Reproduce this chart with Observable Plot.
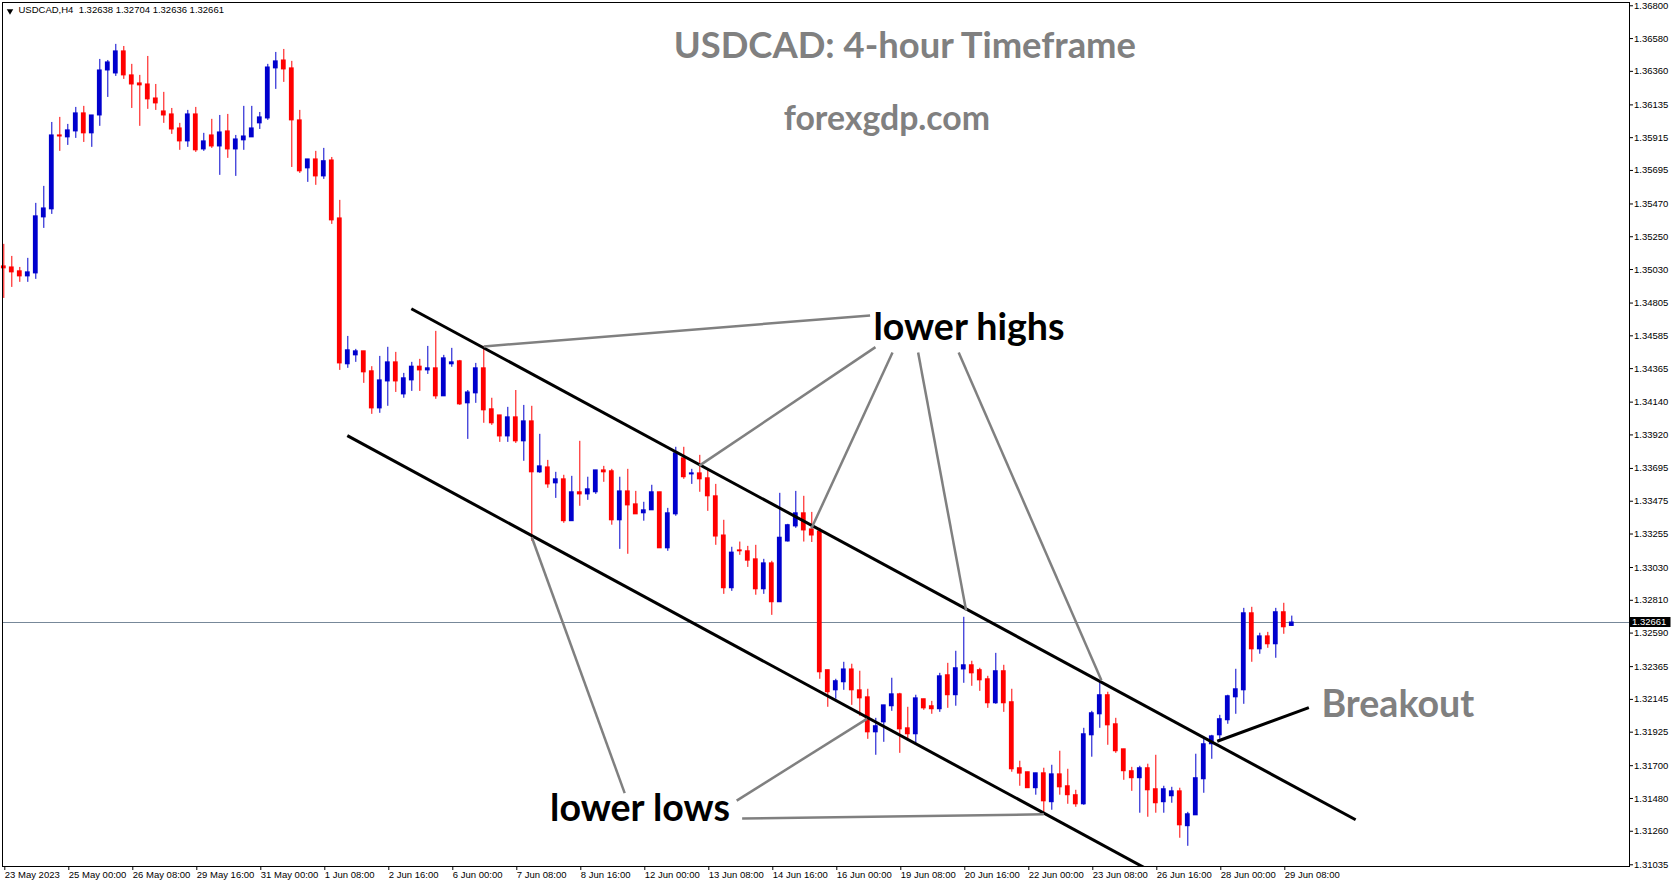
<!DOCTYPE html>
<html>
<head>
<meta charset="utf-8">
<script src="https://cdn.jsdelivr.net/npm/d3@7"></script>
<script src="https://cdn.jsdelivr.net/npm/@observablehq/plot@0.6"></script>
<style>
html, body { margin: 0; padding: 0; background: #ffffff; }
#chart { width: 1673px; height: 888px; overflow: hidden; }
</style>
</head>
<body>
<div id="chart"></div>
<script>
// ---------------- DATA ----------------
const symbol = "USDCAD,H4";

const open = [1.35051,1.35044,1.35018,1.34984,1.35004,1.35380,1.35434,1.35930,1.35917,1.35957,
1.36078,1.35944,1.36064,1.36366,1.36346,1.36494,1.36333,1.36279,1.36272,1.36178,
1.36091,1.36071,1.35977,1.35890,1.36071,1.35836,1.35930,1.35856,1.35957,1.35836,
1.35897,1.35917,1.36011,1.36044,1.36380,1.36433,1.36380,1.36031,1.35709,1.35769,
1.35655,1.35762,1.35373,1.34394,1.34454,1.34481,1.34347,1.34098,1.34279,1.34407,
1.34192,1.34286,1.34378,1.34353,1.34367,1.34179,1.34394,1.34414,1.34132,1.34199,
1.34367,1.34092,1.34051,1.33910,1.34038,1.33877,1.34011,1.33669,1.33702,1.33595,
1.33622,1.33341,1.33535,1.33521,1.33535,1.33682,1.33676,1.33347,1.33541,1.33454,
1.33394,1.33414,1.33535,1.33159,1.33387,1.33763,1.33655,1.33662,1.33629,1.33508,
1.33245,1.32891,1.33145,1.33139,1.33085,1.32884,1.33058,1.32797,1.33205,1.33306,
1.33394,1.33286,1.33272,1.32341,1.32206,1.32260,1.32346,1.32206,1.32159,1.31924,
1.31991,1.32099,1.32179,1.31951,1.31911,1.32146,1.32099,1.32079,1.32307,1.32173,
1.32346,1.32374,1.32341,1.32280,1.32119,1.32334,1.32126,1.31683,1.31656,1.31549,
1.31649,1.31455,1.31642,1.31562,1.31502,1.31441,1.31904,1.32045,1.32173,1.31978,
1.31810,1.31663,1.31616,1.31683,1.31542,1.31455,1.31495,1.31528,1.31294,1.31367,
1.31609,1.31844,1.31904,1.32005,1.32159,1.32206,1.32723,1.32481,1.32568,1.32515,
1.32730,1.32638];

const high = [1.35199,1.35118,1.35044,1.35105,1.35474,1.35588,1.36017,1.36051,1.36004,1.36118,
1.36125,1.36064,1.36440,1.36433,1.36541,1.36527,1.36407,1.36333,1.36460,1.36272,
1.36219,1.36111,1.36011,1.36098,1.36118,1.35944,1.36038,1.36064,1.36071,1.35930,
1.36125,1.36125,1.36084,1.36407,1.36487,1.36507,1.36427,1.36098,1.35769,1.35823,
1.35843,1.35782,1.35494,1.34581,1.34494,1.34481,1.34378,1.34447,1.34508,1.34474,
1.34333,1.34407,1.34427,1.34514,1.34615,1.34454,1.34501,1.34420,1.34218,1.34400,
1.34514,1.34166,1.34051,1.34105,1.34218,1.34118,1.34112,1.33924,1.33749,1.33669,
1.33649,1.33642,1.33877,1.33636,1.33682,1.33709,1.33689,1.33636,1.33689,1.33541,
1.33468,1.33582,1.33535,1.33427,1.33837,1.33837,1.33689,1.33783,1.33682,1.33588,
1.33347,1.33166,1.33201,1.33172,1.33179,1.33085,1.33072,1.33528,1.33320,1.33541,
1.33508,1.33400,1.33293,1.32341,1.32280,1.32394,1.32381,1.32334,1.32213,1.32018,
1.32105,1.32287,1.32186,1.32092,1.32173,1.32146,1.32132,1.32320,1.32387,1.32468,
1.32696,1.32401,1.32354,1.32300,1.32454,1.32374,1.32213,1.31730,1.31656,1.31649,
1.31683,1.31703,1.31797,1.31676,1.31535,1.31951,1.32065,1.32267,1.32193,1.32018,
1.31810,1.31689,1.31696,1.31710,1.31770,1.31562,1.31555,1.31549,1.31387,1.31777,
1.31877,1.31904,1.32038,1.32173,1.32347,1.32756,1.32763,1.32589,1.32595,1.32756,
1.32790,1.32704];

const low = [1.34836,1.34910,1.34944,1.34944,1.34964,1.35306,1.35400,1.35823,1.35863,1.35910,
1.35883,1.35850,1.35991,1.36185,1.36326,1.36306,1.36111,1.35991,1.36105,1.36098,
1.36011,1.35937,1.35830,1.35850,1.35816,1.35823,1.35843,1.35662,1.35776,1.35655,
1.35830,1.35917,1.35970,1.36031,1.36239,1.36286,1.35715,1.35675,1.35615,1.35595,
1.35635,1.35333,1.34353,1.34367,1.34407,1.34266,1.34058,1.34065,1.34112,1.34205,
1.34166,1.34212,1.34212,1.34326,1.34159,1.34179,1.34374,1.34118,1.33890,1.34132,
1.33998,1.33984,1.33870,1.33870,1.33863,1.33743,1.33206,1.33662,1.33562,1.33494,
1.33327,1.33341,1.33441,1.33481,1.33521,1.33602,1.33314,1.33152,1.33119,1.33387,
1.33341,1.33414,1.33159,1.33139,1.33374,1.33622,1.33588,1.33535,1.33407,1.33179,
1.32850,1.32870,1.33112,1.33031,1.32844,1.32850,1.32709,1.32797,1.33201,1.33293,
1.33201,1.33198,1.32280,1.32092,1.32146,1.32206,1.32105,1.32032,1.31877,1.31770,
1.31857,1.32065,1.31783,1.31877,1.31844,1.32072,1.32045,1.32058,1.32085,1.32099,
1.32253,1.32233,1.32199,1.32085,1.32112,1.32058,1.31656,1.31562,1.31549,1.31502,
1.31381,1.31401,1.31502,1.31441,1.31421,1.31434,1.31757,1.31951,1.31837,1.31783,
1.31602,1.31528,1.31381,1.31354,1.31381,1.31381,1.31448,1.31213,1.31159,1.31367,
1.31515,1.31743,1.31877,1.31978,1.32045,1.32112,1.32394,1.32448,1.32488,1.32421,
1.32582,1.32636];

const close = [1.35038,1.35011,1.34984,1.35011,1.35387,1.35440,1.35930,1.35923,1.35964,1.36078,
1.35944,1.36064,1.36366,1.36420,1.36494,1.36333,1.36272,1.36266,1.36172,1.36145,
1.36064,1.35970,1.35890,1.36071,1.35830,1.35890,1.35856,1.35950,1.35836,1.35903,
1.35923,1.35977,1.36051,1.36386,1.36427,1.36373,1.36031,1.35689,1.35769,1.35655,
1.35757,1.35360,1.34400,1.34488,1.34481,1.34340,1.34098,1.34286,1.34407,1.34279,
1.34300,1.34378,1.34353,1.34367,1.34179,1.34434,1.34407,1.34125,1.34205,1.34367,
1.34085,1.33998,1.33910,1.34038,1.33877,1.34011,1.33669,1.33709,1.33588,1.33622,
1.33341,1.33535,1.33521,1.33555,1.33682,1.33669,1.33347,1.33541,1.33447,1.33387,
1.33414,1.33535,1.33159,1.33394,1.33796,1.33636,1.33662,1.33622,1.33508,1.33238,
1.32891,1.33130,1.33139,1.33076,1.32884,1.33058,1.32797,1.33230,1.33314,1.33394,
1.33279,1.33245,1.32327,1.32193,1.32267,1.32346,1.32206,1.32152,1.31924,1.31965,
1.32105,1.32179,1.31944,1.31911,1.32152,1.32085,1.32079,1.32300,1.32173,1.32354,
1.32374,1.32320,1.32273,1.32119,1.32334,1.32119,1.31676,1.31647,1.31549,1.31649,
1.31461,1.31642,1.31555,1.31502,1.31441,1.31911,1.32052,1.32173,1.31971,1.31797,
1.31663,1.31616,1.31683,1.31535,1.31448,1.31542,1.31528,1.31300,1.31374,1.31616,
1.31844,1.31897,1.32012,1.32166,1.32213,1.32723,1.32481,1.32568,1.32515,1.32730,
1.32629,1.32661];

// time-axis tick labels (every 8th H4 bar)
const dateTickIndex = [0,8,16,24,32,40,48,56,64,72,80,88,96,104,112,120,128,136,144,152,160];
const dateTickLabels = ["23 May 2023","25 May 00:00","26 May 08:00","29 May 16:00","31 May 00:00",
"1 Jun 08:00","2 Jun 16:00","6 Jun 00:00","7 Jun 08:00","8 Jun 16:00","12 Jun 00:00",
"13 Jun 08:00","14 Jun 16:00","16 Jun 00:00","19 Jun 08:00","20 Jun 16:00","22 Jun 00:00",
"23 Jun 08:00","26 Jun 16:00","28 Jun 00:00","29 Jun 08:00"];

// price-axis tick values
const priceTicks = [1.36800,1.36580,1.36360,1.36135,1.35915,1.35695,1.35470,1.35250,1.35030,
1.34805,1.34585,1.34365,1.34140,1.33920,1.33695,1.33475,1.33255,1.33030,1.32810,1.32590,
1.32365,1.32145,1.31925,1.31700,1.31480,1.31260,1.31035];

// drawn objects, in (bar index, price)
const channelLines = [
  {x1: 50.94, y1: 1.34767, x2: 168.98, y2: 1.31337},
  {x1: 42.94, y1: 1.33915, x2: 142.7, y2: 1.31012}
];
const breakoutLine = [{x1: 151.68, y1: 1.31864, x2: 163.13, y2: 1.32090}];
const lowerHighsLines = [
  {x1: 108.29, y1: 1.34722, x2: 60.0,   y2: 1.34514},
  {x1: 108.96, y1: 1.34509, x2: 86.95,  y2: 1.33714},
  {x1: 111.09, y1: 1.34473, x2: 100.95, y2: 1.33292},
  {x1: 114.29, y1: 1.34473, x2: 120.29, y2: 1.32741},
  {x1: 119.36, y1: 1.34473, x2: 137.2,  y2: 1.32273}
];
const lowerLowsLines = [
  {x1: 77.61, y1: 1.31516, x2: 66.0,   y2: 1.33233},
  {x1: 91.61, y1: 1.31466, x2: 107.89, y2: 1.32014},
  {x1: 92.29, y1: 1.31345, x2: 130.0,  y2: 1.31374}
];
const labelTexts = ["lower highs", "lower lows", "Breakout"];
const labelX = [108.7, 68.28, 164.7];
const labelY = [1.34636, 1.31413, 1.32108];
const titleTexts = ["USDCAD: 4-hour Timeframe", "forexgdp.com"];
const titleX = [112.63, 110.39];
const titleY = [1.36525, 1.36037];

// ---------------- BUILD ----------------
const BLUE = "#0000cd", RED = "#ff0000", GRAY = "#808080";
const candles = open.map((o, i) => ({i, o, h: high[i], l: low[i], c: close[i], up: close[i] > open[i]}));
const last = candles[candles.length - 1];
const fmt = d3.format(".5f");
const tickLabel = new Map(dateTickIndex.map((d, k) => [d, dateTickLabels[k]]));
const info = `${symbol}  ${[last.o, last.h, last.l, last.c].map(fmt).join(" ")}`;
const labels = labelTexts.map((t, k) => ({t, x: labelX[k], y: labelY[k], fill: t === "Breakout" ? GRAY : "#000000"}));
const titles = titleTexts.map((t, k) => ({t, x: titleX[k], y: titleY[k]}));

const chart = Plot.plot({
  width: 1673,
  height: 888,
  marginLeft: 2,
  marginRight: 44,
  marginTop: 2,
  marginBottom: 22,
  style: {fontFamily: "'Liberation Sans', Arial, sans-serif", fontSize: "9.5px", background: "#ffffff", color: "#000000"},
  color: {type: "identity"},
  x: {type: "linear", domain: [-0.1625, 203.2125], axis: null},
  y: {type: "linear", domain: [1.310235, 1.368221], axis: null},
  marks: [
    Plot.ruleY([last.c], {stroke: "#778899", strokeWidth: 1}),
    Plot.ruleX(candles, {x: "i", y1: "l", y2: "h", stroke: d => d.up ? BLUE : RED, strokeWidth: 1}),
    Plot.rect(candles, {x1: d => d.i - 0.3, x2: d => d.i + 0.3, y1: "o", y2: "c",
      fill: d => d.up ? BLUE : RED, insetTop: -0.5, insetBottom: -0.5}),
    Plot.link(channelLines, {x1: "x1", y1: "y1", x2: "x2", y2: "y2", stroke: "#000000", strokeWidth: 3, clip: true}),
    Plot.link(breakoutLine, {x1: "x1", y1: "y1", x2: "x2", y2: "y2", stroke: "#000000", strokeWidth: 3, clip: true}),
    Plot.link(lowerHighsLines, {x1: "x1", y1: "y1", x2: "x2", y2: "y2", stroke: GRAY, strokeWidth: 2.5, clip: true}),
    Plot.link(lowerLowsLines, {x1: "x1", y1: "y1", x2: "x2", y2: "y2", stroke: GRAY, strokeWidth: 2.5, clip: true}),
    Plot.text(labels, {x: "x", y: "y", text: "t", fill: "fill", textAnchor: "start", lineAnchor: "middle",
      fontFamily: "Lato, 'Open Sans', sans-serif", fontWeight: "bold", fontSize: 37.6}),
    Plot.text(titles.slice(0, 1), {x: "x", y: "y", text: "t", fill: GRAY, textAnchor: "middle", lineAnchor: "middle",
      fontFamily: "Lato, 'Open Sans', sans-serif", fontWeight: "bold", fontSize: 36.4}),
    Plot.text(titles.slice(1), {x: "x", y: "y", text: "t", fill: GRAY, textAnchor: "middle", lineAnchor: "middle",
      fontFamily: "Lato, 'Open Sans', sans-serif", fontWeight: "bold", fontSize: 33.8}),
    Plot.text([info], {frameAnchor: "top-left", dx: 16, dy: 4, lineAnchor: "top", textAnchor: "start", fill: "#000000"}),
    Plot.dot([info], {frameAnchor: "top-left", dx: 7.5, dy: 8.6, symbol: "triangle", rotate: 180, r: 2.4, fill: "#000000"}),
    Plot.axisY({anchor: "right", ticks: priceTicks, tickFormat: fmt, tickSize: 3, tickPadding: 1.5, stroke: "#000000"}),
    Plot.axisX({anchor: "bottom", ticks: dateTickIndex, tickFormat: d => tickLabel.get(d), tickSize: 4,
      tickPadding: 1, textAnchor: "start", dx: 1, stroke: "#000000"}),
    Plot.frame({stroke: "#000000"})
  ]
});

// current-price tag on the price axis
const yScale = chart.scale("y");
const py = yScale.apply(last.c);
const svg = d3.select(chart);
const tag = svg.append("g").attr("text-anchor", "start");
tag.append("rect").attr("x", 1629.5).attr("y", py - 5).attr("width", 41).attr("height", 10).attr("fill", "#000000");
tag.append("text").attr("x", 1632).attr("y", py).attr("dy", "0.35em").attr("fill", "#ffffff")
  .attr("text-anchor", "start").attr("font-size", "9.5px").text(fmt(last.c));

document.getElementById("chart").appendChild(chart);
</script>
</body>
</html>
